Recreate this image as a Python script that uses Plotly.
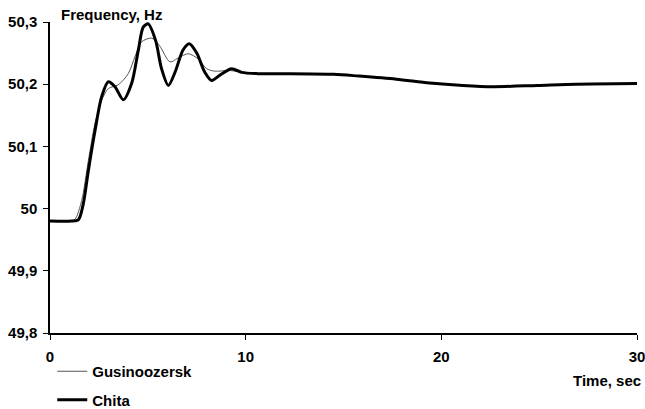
import plotly.graph_objects as go

# Time, sec
t_gus = [0, 1.0, 1.28, 1.62, 1.96, 2.3, 2.64, 2.98, 3.49, 4.0, 4.34, 4.68, 5.2, 5.6,
         6.13, 6.6, 7.07, 7.6, 8.0, 8.4, 9.2, 10.0, 10.6, 12.0, 14.5, 15.8, 17.7,
         19.4, 21.1, 22.65, 24.9, 26.9, 30]
f_gus = [49.98, 49.98, 49.983, 50.013, 50.077, 50.137, 50.174, 50.193, 50.199, 50.217,
         50.244, 50.268, 50.274, 50.262, 50.236, 50.243, 50.249, 50.24, 50.225, 50.221,
         50.222, 50.218, 50.217, 50.217, 50.216, 50.213, 50.208, 50.202, 50.198, 50.196,
         50.198, 50.2, 50.201]

t_chita = [0, 1.1, 1.45, 1.7, 1.96, 2.3, 2.64, 2.98, 3.32, 3.75, 4.17, 4.51, 4.77,
           5.02, 5.4, 5.7, 6.05, 6.4, 6.8, 7.12, 7.5, 7.9, 8.26, 8.7, 9.28, 9.8,
           10.6, 12.0, 14.5, 15.8, 17.7, 19.4, 21.1, 22.65, 24.9, 26.9, 30]
f_chita = [49.98, 49.98, 49.982, 50.0075, 50.061, 50.125, 50.18, 50.204, 50.196, 50.175,
           50.201, 50.254, 50.292, 50.297, 50.27, 50.225, 50.198, 50.22, 50.255, 50.265,
           50.25, 50.22, 50.206, 50.215, 50.225, 50.219, 50.217, 50.217, 50.216, 50.213,
           50.208, 50.202, 50.198, 50.196, 50.198, 50.2, 50.201]

x_ticks = [0, 10, 20, 30]
y_ticks = [49.8, 49.9, 50.0, 50.1, 50.2, 50.3]
y_tick_labels = ["49,8", "49,9", "50", "50,1", "50,2", "50,3"]

FONT = "Liberation Sans, Arial, sans-serif"
FS = 15

fig = go.Figure()
fig.add_trace(go.Scatter(
    x=t_gus, y=f_gus, mode="lines", name="Gusinoozersk",
    line=dict(color="#555555", width=1, shape="spline", smoothing=0.8),
    legendgroup="g1"))
fig.add_trace(go.Scatter(
    x=t_chita, y=f_chita, mode="lines", name="Chita",
    line=dict(color="#000000", width=3, shape="spline", smoothing=0.8),
    legendgroup="g2"))

fig.update_layout(
    width=645, height=409,
    margin=dict(l=50, r=8, t=22, b=76, autoexpand=False),
    paper_bgcolor="white", plot_bgcolor="white",
    font=dict(family=FONT, size=FS, color="black"),
    showlegend=True,
    legend=dict(
        xref="container", yref="container",
        x=0.081, y=0.132, xanchor="left", yanchor="top",
        font=dict(family=FONT, size=FS, color="black", weight="bold"),
        itemwidth=30, tracegroupgap=6, traceorder="grouped",
        bgcolor="rgba(0,0,0,0)", borderwidth=0),
    xaxis=dict(
        range=[0, 30], tickvals=x_ticks, ticktext=[str(v) for v in x_ticks],
        showgrid=False, zeroline=False, showline=True, linecolor="black",
        linewidth=1.5, ticks="outside", ticklen=5, tickwidth=1, tickcolor="black",
        tickfont=dict(family=FONT, size=FS, color="black", weight="bold"),
        ticklabelstandoff=4, ticklabeloverflow="allow"),
    yaxis=dict(
        range=[49.8, 50.3], tickvals=y_ticks, ticktext=y_tick_labels,
        showgrid=False, zeroline=False, showline=True, linecolor="black",
        linewidth=1.5, ticks="outside", ticklen=5, tickwidth=1, tickcolor="black",
        tickfont=dict(family=FONT, size=FS, color="black", weight="bold"),
        ticklabelstandoff=3, ticklabeloverflow="allow"),
    annotations=[
        dict(text="Frequency, Hz", xref="paper", yref="paper", x=0.016, y=1.025,
             xanchor="left", yanchor="middle", showarrow=False,
             font=dict(family=FONT, size=FS, color="black", weight="bold")),
        dict(text="Time, sec", xref="paper", yref="paper", x=0.8876, y=-0.152,
             xanchor="left", yanchor="middle", showarrow=False,
             font=dict(family=FONT, size=FS, color="black", weight="bold")),
    ],
)

fig.write_html("out.html", config={"displayModeBar": False},
               post_script="document.body.style.margin='0';")
